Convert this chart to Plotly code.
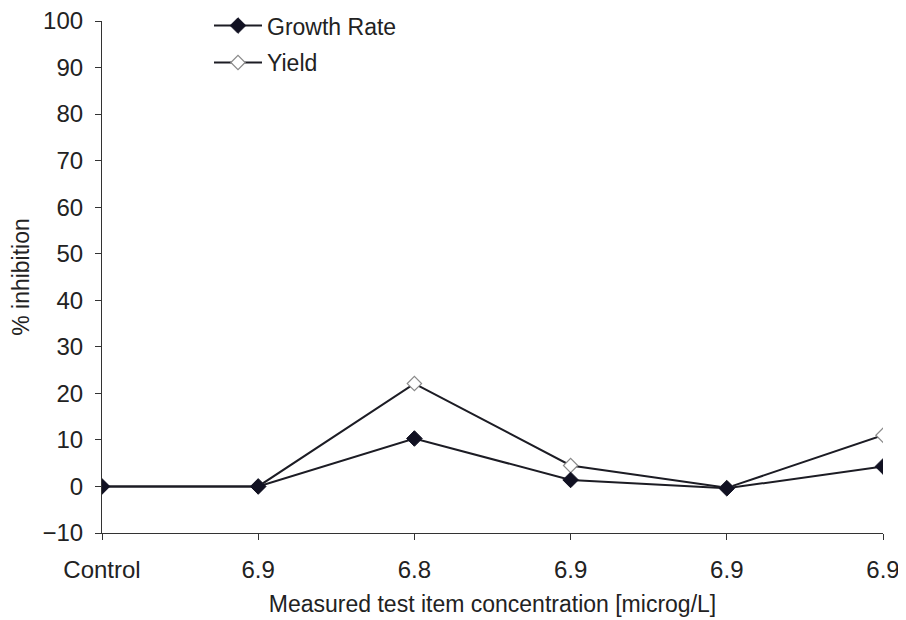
import plotly.graph_objects as go

categories = ["Control", "6.9", "6.8", "6.9", "6.9", "6.9"]
growth_rate = [0.0, 0.0, 10.3, 1.4, -0.4, 4.3]
yield_vals = [0.0, 0.0, 22.1, 4.5, -0.3, 11.0]
y_ticks = list(range(-10, 101, 10))

x_pos = list(range(len(categories)))
FONT = "Liberation Sans, Arial, sans-serif"

fig = go.Figure()
fig.add_trace(go.Scatter(
    x=x_pos, y=yield_vals, name="Yield", mode="lines+markers",
    line=dict(color="#1c1c24", width=2),
    marker=dict(symbol="diamond", size=11, color="white",
                line=dict(color="#8a8a8a", width=1.2)),
    legendgroup="b", legendrank=2,
))
fig.add_trace(go.Scatter(
    x=x_pos, y=growth_rate, name="Growth Rate", mode="lines+markers",
    line=dict(color="#1c1c24", width=2),
    marker=dict(symbol="diamond", size=12, color="#111122",
                line=dict(color="#111122", width=1)),
    legendgroup="a", legendrank=1,
))

# page body adds an 8px margin, so the figure is 8px smaller than the window
fig.update_layout(
    width=898, height=612,
    margin=dict(l=94, r=23, t=13, b=87, autoexpand=False),
    paper_bgcolor="white", plot_bgcolor="white",
    font=dict(family=FONT, size=23, color="#222222"),
    showlegend=True,
    legend=dict(x=0.137, y=1.033, xanchor="left", yanchor="top",
                bgcolor="rgba(0,0,0,0)", traceorder="grouped",
                tracegroupgap=4, itemwidth=48, font=dict(size=23)),
    xaxis=dict(
        range=[0, len(categories) - 1],
        tickmode="array", tickvals=x_pos, ticktext=categories,
        tickfont=dict(size=24),
        showline=True, linecolor="#333333", linewidth=1.2,
        ticks="outside", ticklen=6, tickcolor="#333333",
        showgrid=False, zeroline=False,
        ticklabelstandoff=9, ticklabeloverflow="allow",
        title=dict(text="Measured test item concentration [microg/L]",
                   font=dict(size=23), standoff=13),
        automargin=False,
    ),
    yaxis=dict(
        range=[-10, 100], tickmode="array", tickvals=y_ticks,
        tickfont=dict(size=24),
        showline=True, linecolor="#333333", linewidth=1.2,
        ticks="outside", ticklen=6, tickcolor="#333333",
        showgrid=False, zeroline=False,
        ticklabelstandoff=7, ticklabeloverflow="allow",
        title=dict(text="% inhibition", font=dict(size=23), standoff=14),
        automargin=False,
    ),
)

fig.write_html("out.html")
